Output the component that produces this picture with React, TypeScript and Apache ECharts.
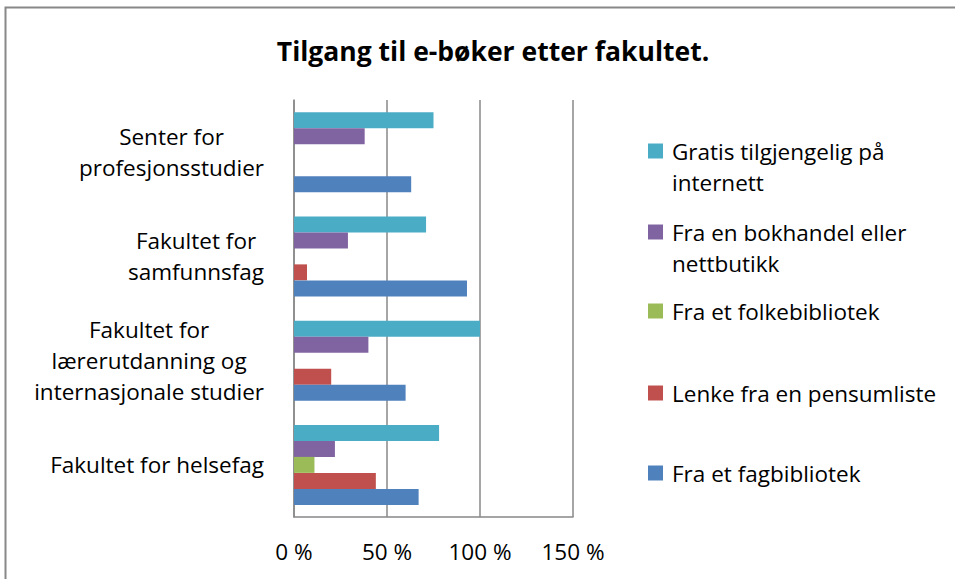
import React, { useEffect, useRef } from "react";
import * as echarts from "echarts";

const categories = [
  "Fakultet for helsefag",
  "Fakultet for\nlærerutdanning og\ninternasjonale studier",
  "Fakultet for\nsamfunnsfag",
  "Senter for\nprofesjonsstudier",
];

const seriesNames = [
  "Gratis tilgjengelig på internett",
  "Fra en bokhandel eller nettbutikk",
  "Fra et folkebibliotek",
  "Lenke fra en pensumliste",
  "Fra et fagbibliotek",
];

const legendLabels = [
  "Gratis tilgjengelig på\ninternett",
  "Fra en bokhandel eller\nnettbutikk",
  "Fra et folkebibliotek",
  "Lenke fra en pensumliste",
  "Fra et fagbibliotek",
];

const gratis = [0.78, 1.0, 0.71, 0.75];
const bokhandel = [0.22, 0.4, 0.29, 0.38];
const folkebibliotek = [0.11, 0, 0, 0];
const pensumliste = [0.44, 0.2, 0.07, 0];
const fagbibliotek = [0.67, 0.6, 0.93, 0.63];

const seriesValues = [gratis, bokhandel, folkebibliotek, pensumliste, fagbibliotek];
const colors = ["#4BACC6", "#8064A2", "#9BBB59", "#C0504D", "#4F81BD"];

const xTicks = [0, 0.5, 1, 1.5];

const FONT = "'Open Sans', 'Noto Sans', sans-serif";
const FS = 22.5;
const LH = 31;

export default function App() {
  const ref = useRef<HTMLDivElement>(null);
  useEffect(() => {
    if (!ref.current) return;
    const chart = echarts.init(ref.current, undefined, { renderer: "svg" });
    const legendCenters = [151, 232, 311, 393, 473];
    const legends = seriesNames.map((name, i) => {
      const twoLine = legendLabels[i].includes("\n");
      const boxH = twoLine ? LH * 3 : LH;
      return {
        data: [name],
        left: 643,
        top: legendCenters[i] - boxH / 2 - 5,
        orient: "vertical",
        icon: "rect",
        itemWidth: 15,
        itemHeight: 15,
        selectedMode: false,
        formatter: (n: string) => {
          const idx = seriesNames.indexOf(n);
          const lbl = legendLabels[idx];
          return lbl.includes("\n") ? " \n" + lbl : lbl;
        },
        textStyle: {
          fontFamily: FONT,
          fontSize: FS,
          lineHeight: LH,
          color: "#000",
          padding: [0, 0, 0, 4],
        },
      };
    });
    chart.setOption({
      animation: false,
      backgroundColor: "#fff",
      title: {
        text: "Tilgang til e-bøker etter fakultet.",
        left: 488,
        textAlign: "center",
        top: 31,
        textStyle: {
          fontFamily: FONT,
          fontSize: 26.5,
          fontWeight: "bold",
          color: "#000",
          lineHeight: 30,
        },
      },
      legend: legends,
      grid: { left: 294, right: 382, top: 100, bottom: 62, containLabel: false },
      xAxis: {
        type: "value",
        min: 0,
        max: 1.5,
        interval: 0.5,
        axisLine: { show: true, lineStyle: { color: "#888", width: 1.5 } },
        axisTick: { show: false },
        splitLine: { show: true, lineStyle: { color: "#888", width: 1.5 } },
        axisLabel: {
          margin: 23,
          fontFamily: FONT,
          fontSize: FS,
          color: "#000",
          formatter: (v: number) => {
            const m = xTicks.find((t) => Math.abs(t - v) < 1e-9);
            return `${Math.round((m ?? v) * 100)} %`;
          },
        },
      },
      yAxis: {
        type: "category",
        data: categories,
        axisLine: { show: true, lineStyle: { color: "#888", width: 1.5 } },
        axisTick: { show: false },
        axisLabel: {
          margin: 30,
          fontFamily: FONT,
          fontSize: FS,
          color: "#000",
          lineHeight: LH,
          formatter: (v: string) =>
            v
              .split("\n")
              .map((l) => `{c|${l}}`)
              .join("\n"),
          rich: {
            c: {
              align: "center",
              fontFamily: FONT,
              fontSize: FS,
              lineHeight: LH,
              color: "#000",
            },
          },
        },
      },
      graphic: [
        {
          type: "rect",
          shape: { x: 5.5, y: 7.5, width: 2000, height: 2000 },
          style: { fill: "none", stroke: "#888", lineWidth: 2 },
          silent: true,
        },
      ],
      series: seriesNames.map((name, i) => ({
        name,
        type: "bar",
        data: seriesValues[i],
        barWidth: 16,
        barGap: "0%",
        itemStyle: { color: colors[i] },
      })),
    });
    return () => chart.dispose();
  }, []);
  return (
    <div
      ref={ref}
      style={{ position: "absolute", left: 0, top: 0, width: 955, height: 579 }}
    />
  );
}
